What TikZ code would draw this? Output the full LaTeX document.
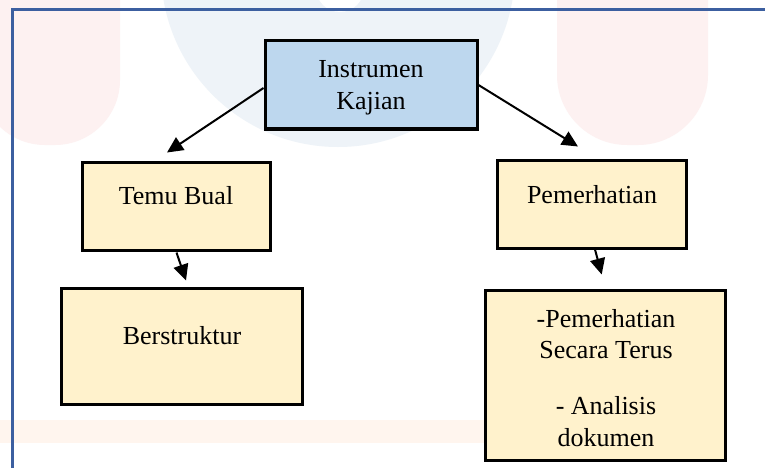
\documentclass[tikz,border=0pt]{standalone}
\usepackage{fontspec}
\setmainfont{Liberation Serif}
\usetikzlibrary{arrows.meta,calc}
\definecolor{boxblue}{HTML}{BDD7EE}
\definecolor{boxyellow}{HTML}{FFF2CC}
\definecolor{framecol}{HTML}{3C5FA0}
\definecolor{wmpink}{HTML}{FDF1F1}
\definecolor{wmblue}{HTML}{EEF3F8}
\definecolor{wmorange}{HTML}{FFF5EE}
\tikzset{
  box/.style={draw=black, line width=3pt, inner sep=0pt},
  txt/.style={anchor=base, inner sep=0pt, font=\fontsize{26pt}{32pt}\selectfont},
  conn/.style={draw=black, line width=2pt, -{Triangle[length=16pt,width=15pt]}},
}
\begin{document}
\begin{tikzpicture}[x=1pt,y=-1pt]
\useasboundingbox (0,0) rectangle (765,468);
\fill[white] (0,0) rectangle (765,468);
% faint watermark shapes
\fill[wmpink, rounded corners=65pt] (-20,-80) rectangle (120,145);
\fill[wmblue] (338,-30) circle (177);
\fill[white] (340,-12) circle (24);
\fill[wmpink, rounded corners=70pt] (557,-80) rectangle (708,145);
\fill[wmorange] (0,420) rectangle (490,443);
% frame
\draw[framecol, line width=3pt] (12,468) -- (12,10) -- (765,10);
% boxes
\node[box, fill=boxblue, minimum width=212pt, minimum height=88pt] (ik) at (371,85) {};
\node[box, fill=boxyellow, minimum width=188pt, minimum height=88pt] (tb) at (176.5,206) {};
\node[box, fill=boxyellow, minimum width=189pt, minimum height=88pt] (pm) at (592,204) {};
\node[box, fill=boxyellow, minimum width=241pt, minimum height=116pt] (bs) at (181.5,346) {};
\node[box, fill=boxyellow, minimum width=240pt, minimum height=170pt] (ps) at (605.7,375) {};
% texts
\node[txt] (ik1) at (371,78) {Instrumen};
\node[txt] (ik2) at (371,110) {Kajian};
\node[txt] (tbt) at (176,204) {Temu Bual};
\node[txt] (pmt) at (592,203) {Pemerhatian};
\node[txt] (bst) at (182,344) {Berstruktur};
\node[txt] (ps1) at (606,327) {-Pemerhatian};
\node[txt] (ps2) at (606,358) {Secara Terus};
\node[txt] (ps3) at (606,414) {- Analisis};
\node[txt] (ps4) at (606,446) {dokumen};
% connectors
\coordinate (a1s) at ($(ik.west)+(0,3)$);
\coordinate (a1e) at ($(tb.north)+(-9.5,-8)$);
\coordinate (a2s) at ($(ik.east)+(0,0)$);
\coordinate (a2e) at ($(pm.north)+(-14,-12)$);
\coordinate (a3s) at ($(tb.south)+(0,1)$);
\coordinate (a3e) at ($(bs.north)+(4.5,-6)$);
\coordinate (a4s) at ($(pm.south)+(3,0)$);
\coordinate (a4e) at ($(ps.north)+(-4,-14)$);
\draw[conn] (a1s) -- (a1e);
\draw[conn] (a2s) -- (a2e);
\draw[conn] (a3s) -- (a3e);
\draw[conn] (a4s) -- (a4e);
\end{tikzpicture}
\end{document}
